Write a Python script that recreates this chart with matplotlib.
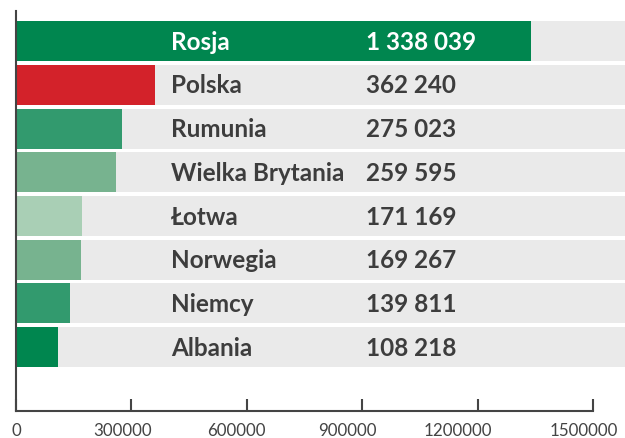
import numpy as np
import matplotlib
matplotlib.use("Agg")
import matplotlib.pyplot as plt
import matplotlib.transforms as mtransforms

plt.rcParams["font.family"] = ["Lato", "DejaVu Sans"]

# ── Data ────────────────────────────────────────────────────────────────────
countries = ["Rosja", "Polska", "Rumunia", "Wielka Brytania",
             "Łotwa", "Norwegia", "Niemcy", "Albania"]
values = [1338039, 362240, 275023, 259595, 171169, 169267, 139811, 108218]
labels = ["1 338 039", "362 240", "275 023", "259 595",
          "171 169", "169 267", "139 811", "108 218"]
colors = ["#00864F", "#D3222A", "#329A6E", "#77B38F",
          "#A9CFB5", "#77B38F", "#329A6E", "#00864F"]
ticks = [0, 300000, 600000, 900000, 1200000, 1500000]

XMAX = 1583000
TEXT_DARK = "#3D3D3D"
AXIS_GREY = "#444444"

fig = plt.figure(figsize=(6.25, 4.39), dpi=100)
ax = fig.add_axes([0.0256, 0.0615, 0.9744, 0.9112])

y = np.arange(len(countries))
ax.barh(y, [XMAX] * len(y), height=0.915, color="#EAEAEA", zorder=1)
ax.barh(y, values, height=0.915, color=colors, zorder=2)

for i, (name, lab) in enumerate(zip(countries, labels)):
    c = "white" if i == 0 else TEXT_DARK
    ax.text(403000, i, name, va="center", ha="left", fontsize=17.5,
            fontweight="bold", color=c, zorder=3)
    ax.text(910000, i, lab, va="center", ha="left", fontsize=17.5,
            fontweight="bold", color=c, zorder=3)

ax.set_xlim(0, XMAX)
ax.set_ylim(8.46, -0.69)
ax.set_yticks([])
ax.set_xticks(ticks)
ax.set_xticklabels([str(t) for t in ticks])
ax.tick_params(axis="x", direction="in", length=9, width=1.5,
               color=AXIS_GREY, labelcolor=AXIS_GREY, labelsize=12.2, pad=8)

# tick labels in the original sit slightly left of their ticks
shifts_px = [0, -9, -10, -15, -20, -9]
for lbl, dx in zip(ax.get_xticklabels(), shifts_px):
    lbl.set_transform(lbl.get_transform() +
                      mtransforms.ScaledTranslation(dx / 100, 0, fig.dpi_scale_trans))

for s in ["top", "right"]:
    ax.spines[s].set_visible(False)
ax.spines["bottom"].set_bounds(0, 1500000)
for s in ["left", "bottom"]:
    ax.spines[s].set_color(AXIS_GREY)
    ax.spines[s].set_linewidth(1.5)

fig.savefig("out.png", dpi=100)
